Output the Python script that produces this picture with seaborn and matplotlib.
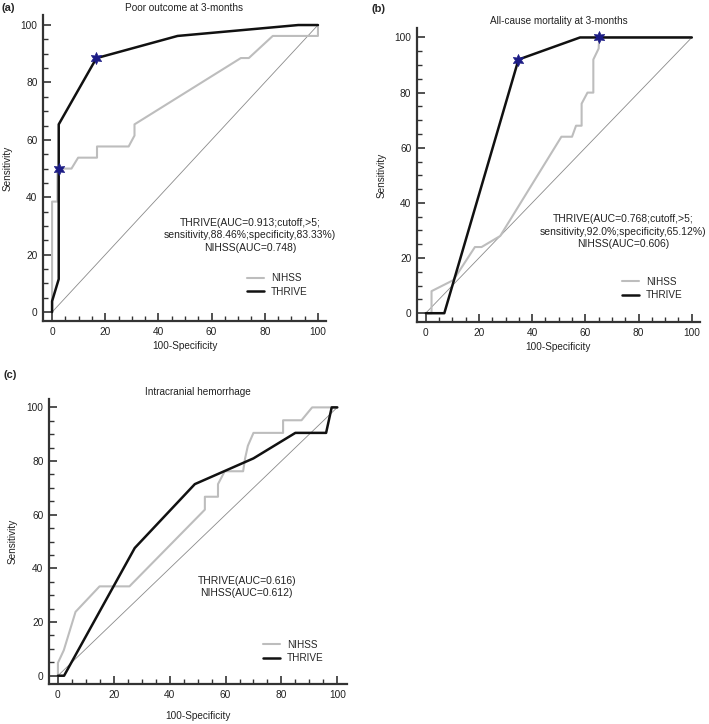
import matplotlib
matplotlib.use("Agg")
import matplotlib.pyplot as plt
import seaborn as sns
import pandas as pd
from matplotlib.ticker import MultipleLocator

# ---- data ----
# (a) Poor outcome at 3-months
a_thrive_x = [0, 0, 2.5, 2.5, 16.67, 47.2, 92.6, 100]
a_thrive_y = [0, 3.8, 11.5, 65.4, 88.46, 96.2, 100, 100]
a_nihss_x = [0, 0, 2.0, 2.0, 7.3, 9.8, 16.9, 16.9, 28.8, 31.0, 31.0, 71.0, 74.0, 83.0, 100, 100]
a_nihss_y = [0, 38.5, 38.5, 50.0, 50.0, 53.8, 53.8, 57.7, 57.7, 61.5, 65.4, 88.5, 88.5, 96.2, 96.2, 100]
a_star_x = [2.5, 16.67]
a_star_y = [50.0, 88.46]

# (b) All-cause mortality at 3-months
b_thrive_x = [0, 7.0, 34.88, 58.0, 100]
b_thrive_y = [0, 0, 92.0, 100, 100]
b_nihss_x = [0, 2.2, 2.2, 10.4, 18.5, 21.0, 28.0, 51.0, 55.0, 56.5, 58.6, 58.6, 60.8, 63.0, 63.0, 65.0, 65.2, 100]
b_nihss_y = [0, 0, 8.0, 12.0, 24.0, 24.0, 28.0, 64.0, 64.0, 68.0, 68.0, 76.0, 80.0, 80.0, 92.0, 96.0, 100, 100]
b_star_x = [34.88, 65.2]
b_star_y = [92.0, 100.0]

# (c) Intracranial hemorrhage
c_thrive_x = [0, 2.2, 27.5, 49.0, 70.0, 85.0, 96.0, 98.0, 100]
c_thrive_y = [0, 0, 47.6, 71.4, 81.0, 90.5, 90.5, 100, 100]
c_nihss_x = [0, 0, 2.1, 6.3, 14.9, 25.6, 52.6, 52.6, 57.3, 57.3, 59.7, 66.3, 67.0, 68.0, 70.0, 80.6, 80.6, 87.2, 91.0, 100]
c_nihss_y = [0, 4.8, 9.5, 23.8, 33.3, 33.3, 61.9, 66.7, 66.7, 71.4, 76.2, 76.2, 81.0, 85.7, 90.5, 90.5, 95.2, 95.2, 100, 100]

titles = ["Poor outcome at 3-months", "All-cause mortality at 3-months", "Intracranial hemorrhage"]
notes = [
    "THRIVE(AUC=0.913;cutoff,>5;\nsensitivity,88.46%;specificity,83.33%)\nNIHSS(AUC=0.748)",
    "THRIVE(AUC=0.768;cutoff,>5;\nsensitivity,92.0%;specificity,65.12%)\nNIHSS(AUC=0.606)",
    "THRIVE(AUC=0.616)\nNIHSS(AUC=0.612)",
]
panel_tags = ["(a)", "(b)", "(c)"]

sns.set_style("ticks")
plt.rcParams["font.family"] = ["Liberation Sans", "DejaVu Sans"]

GREY = "#bdbdbd"
BLACK = "#111111"
STAR = "#1c1c85"


def draw_panel(ax, thrive, nihss, stars, title, note, note_xy, leg_xy, xlim, ylim,
               xpad=3, ypad=6):
    diag = pd.DataFrame({"x": [0, 100], "y": [0, 100]})
    sns.lineplot(data=diag, x="x", y="y", color="#8a8a8a", linewidth=0.6,
                 sort=False, estimator=None, ax=ax)
    df_n = pd.DataFrame({"x": nihss[0], "y": nihss[1]})
    df_t = pd.DataFrame({"x": thrive[0], "y": thrive[1]})
    sns.lineplot(data=df_n, x="x", y="y", color=GREY, linewidth=1.5,
                 sort=False, estimator=None, label="NIHSS", ax=ax)
    sns.lineplot(data=df_t, x="x", y="y", color=BLACK, linewidth=1.8,
                 sort=False, estimator=None, label="THRIVE", ax=ax)
    if stars is not None:
        df_s = pd.DataFrame({"x": stars[0], "y": stars[1]})
        sns.scatterplot(data=df_s, x="x", y="y", marker=(6, 1, 0), s=75,
                        color=STAR, edgecolor=STAR, linewidth=0.5,
                        legend=False, zorder=5, ax=ax)

    ax.set_xlim(*xlim)
    ax.set_ylim(*ylim)
    ax.set_xticks(range(0, 101, 20))
    ax.set_yticks(range(0, 101, 20))
    ax.xaxis.set_minor_locator(MultipleLocator(5))
    ax.yaxis.set_minor_locator(MultipleLocator(5))
    ax.tick_params(which="major", direction="in", length=6, width=1.2,
                   labelsize=7.3, pad=4, colors="#333333", labelcolor="#222222")
    ax.tick_params(which="minor", direction="in", length=3.5, width=1.0, colors="#333333")
    for side in ["top", "right"]:
        ax.spines[side].set_visible(False)
    for side in ["left", "bottom"]:
        ax.spines[side].set_linewidth(1.6)
        ax.spines[side].set_color("#333333")

    ax.set_xlabel("100-Specificity", fontsize=7.2, color="#222222", labelpad=xpad)
    ax.set_ylabel("Sensitivity", fontsize=7.2, color="#222222", labelpad=ypad)
    ax.set_title(title, fontsize=7.2, color="#222222", pad=3)
    ax.text(note_xy[0], note_xy[1], note, fontsize=7.5, color="#222222",
            ha="center", va="center", linespacing=1.3)
    ax.legend(loc="center left", bbox_to_anchor=leg_xy, frameon=False, fontsize=7.2,
              borderpad=0, borderaxespad=0, handlelength=1.7, handletextpad=0.7,
              labelspacing=0.35)


fig = plt.figure(figsize=(7.09, 7.24), dpi=100)
ax_a = fig.add_axes([0.0607, 0.5566, 0.399, 0.4227])
ax_b = fig.add_axes([0.588, 0.5552, 0.399, 0.406])
ax_c = fig.add_axes([0.0691, 0.0552, 0.420, 0.3936])

draw_panel(ax_a, (a_thrive_x, a_thrive_y), (a_nihss_x, a_nihss_y), (a_star_x, a_star_y),
           titles[0], notes[0], (74.4, 26.8), (0.721, 0.117), (-3.4, 103), (-3.1, 103.5))
draw_panel(ax_b, (b_thrive_x, b_thrive_y), (b_nihss_x, b_nihss_y), (b_star_x, b_star_y),
           titles[1], notes[1], (74.2, 29.5), (0.725, 0.114), (-3.3, 103), (-3.2, 103.4))
draw_panel(ax_c, (c_thrive_x, c_thrive_y), (c_nihss_x, c_nihss_y), None,
           titles[2], notes[2], (67.6, 33.1), (0.719, 0.115), (-3.2, 103.4), (-3.1, 103.1),
           xpad=8, ypad=6.5)

fig.text(2 / 709, 1 - 8 / 724, panel_tags[0], fontsize=8, fontweight="bold", va="center", ha="left")
fig.text(372 / 709, 1 - 9 / 724, panel_tags[1], fontsize=8, fontweight="bold", va="center", ha="left")
fig.text(3 / 709, 1 - 375 / 724, panel_tags[2], fontsize=8, fontweight="bold", va="center", ha="left")

fig.savefig("out.png", dpi=100)
